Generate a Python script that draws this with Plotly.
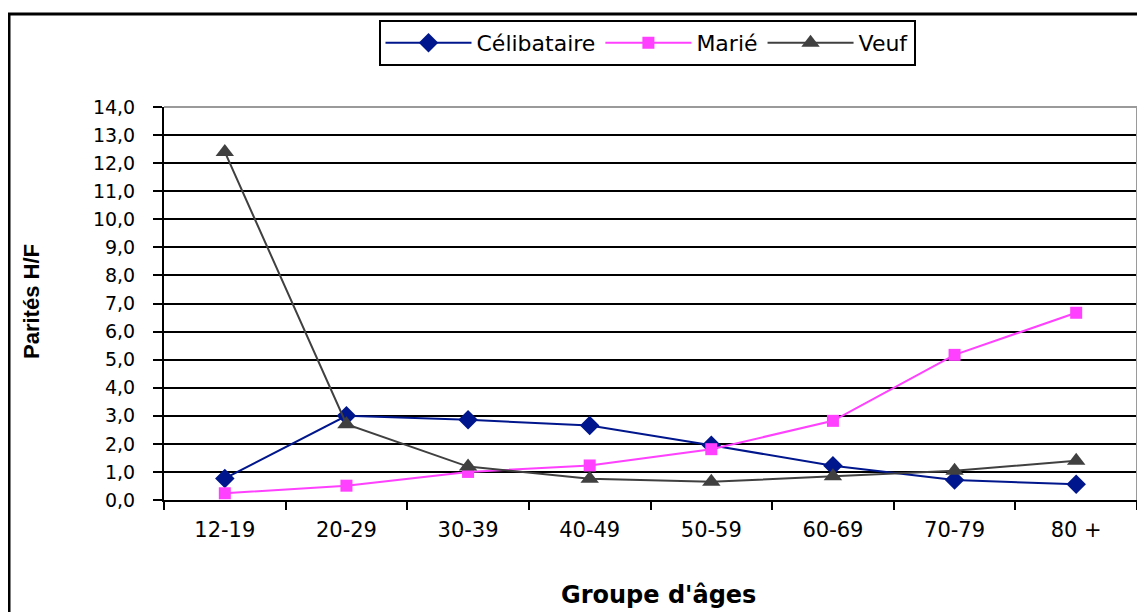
import plotly.graph_objects as go

categories = ["12-19", "20-29", "30-39", "40-49", "50-59", "60-69", "70-79", "80 +"]
celibataire = [0.77, 3.0, 2.86, 2.65, 1.95, 1.22, 0.71, 0.56]
marie = [0.24, 0.51, 1.0, 1.23, 1.81, 2.82, 5.17, 6.67]
veuf = [12.4, 2.7, 1.19, 0.76, 0.65, 0.85, 1.04, 1.40]
y_ticks = list(range(0, 15))

OFF = 8  # page body margin
W, H = 1145 - OFF, 612 - OFF
L, T = 164 - OFF, 107 - OFF
R = W - (1137 - OFF)
B = H - (500 - OFF)
pw = W - L - R
ph = H - T - B

def px_to_paper_x(sx):
    return (sx - OFF - L) / pw

def px_to_paper_y(sy):
    return (H - B - (sy - OFF)) / ph

fig = go.Figure()
fig.add_trace(go.Scatter(x=categories, y=celibataire, name="Célibataire", mode="lines+markers",
                         line=dict(color="#00168c", width=2),
                         marker=dict(symbol="diamond", size=15, color="#00168c")))
fig.add_trace(go.Scatter(x=categories, y=marie, name="Marié", mode="lines+markers",
                         line=dict(color="#ff40ff", width=2),
                         marker=dict(symbol="square", size=12, color="#ff40ff")))
fig.add_trace(go.Scatter(x=categories, y=veuf, name="Veuf", mode="lines+markers",
                         line=dict(color="#404040", width=2),
                         marker=dict(symbol="triangle-up", size=16, color="#404040")))

fig.update_layout(
    width=W, height=H,
    margin=dict(l=L, r=R, t=T, b=B, pad=0),
    paper_bgcolor="white", plot_bgcolor="white",
    separators=", ",
    font=dict(family="DejaVu Sans", color="black"),
    showlegend=True,
    legend=dict(orientation="h", x=px_to_paper_x(647), xanchor="center",
                y=px_to_paper_y(20), yanchor="top",
                bordercolor="black", borderwidth=2,
                font=dict(family="DejaVu Sans", size=22, color="black"),
                itemwidth=86, bgcolor="white"),
    xaxis=dict(type="category", tickson="boundaries", ticks="outside", ticklen=8,
               tickwidth=2, tickcolor="black", showline=True, linecolor="black", linewidth=2,
               showgrid=False, tickfont=dict(family="DejaVu Sans", size=21, color="black"),
               ticklabelstandoff=10, range=[-0.5, 7.5], zeroline=False),
    yaxis=dict(range=[0, 14], tickvals=y_ticks, tickformat=".1f", ticks="outside",
               ticklen=9, tickwidth=2, tickcolor="black", showline=True, linecolor="black",
               linewidth=2, showgrid=True, gridcolor="black", gridwidth=2, zeroline=False,
               tickfont=dict(family="DejaVu Sans", size=19, color="black"),
               ticklabelstandoff=14),
    annotations=[
        dict(text="Parités H/F", xref="paper", yref="paper",
             x=px_to_paper_x(31), y=px_to_paper_y(302), xanchor="center", yanchor="middle",
             textangle=-90, showarrow=False,
             font=dict(family="Liberation Sans", size=22, color="black", weight="bold")),
        dict(text="Groupe d'âges", xref="paper", yref="paper",
             x=px_to_paper_x(658), y=px_to_paper_y(595), xanchor="center", yanchor="middle",
             showarrow=False,
             font=dict(family="DejaVu Sans", size=24, color="black", weight="bold")),
    ],
    shapes=[
        dict(type="rect", xref="paper", yref="paper",
             x0=px_to_paper_x(9), y0=px_to_paper_y(700), x1=px_to_paper_x(1200), y1=px_to_paper_y(14),
             line=dict(color="black", width=3), fillcolor="rgba(0,0,0,0)", layer="below"),
        dict(type="line", xref="paper", yref="paper", x0=0, x1=1, y0=1, y1=1,
             line=dict(color="#9a9a9a", width=2), layer="above"),
        dict(type="line", xref="paper", yref="paper", x0=1, x1=1, y0=0, y1=1,
             line=dict(color="#9a9a9a", width=2), layer="above"),
    ],
)

fig.write_html("out.html")
